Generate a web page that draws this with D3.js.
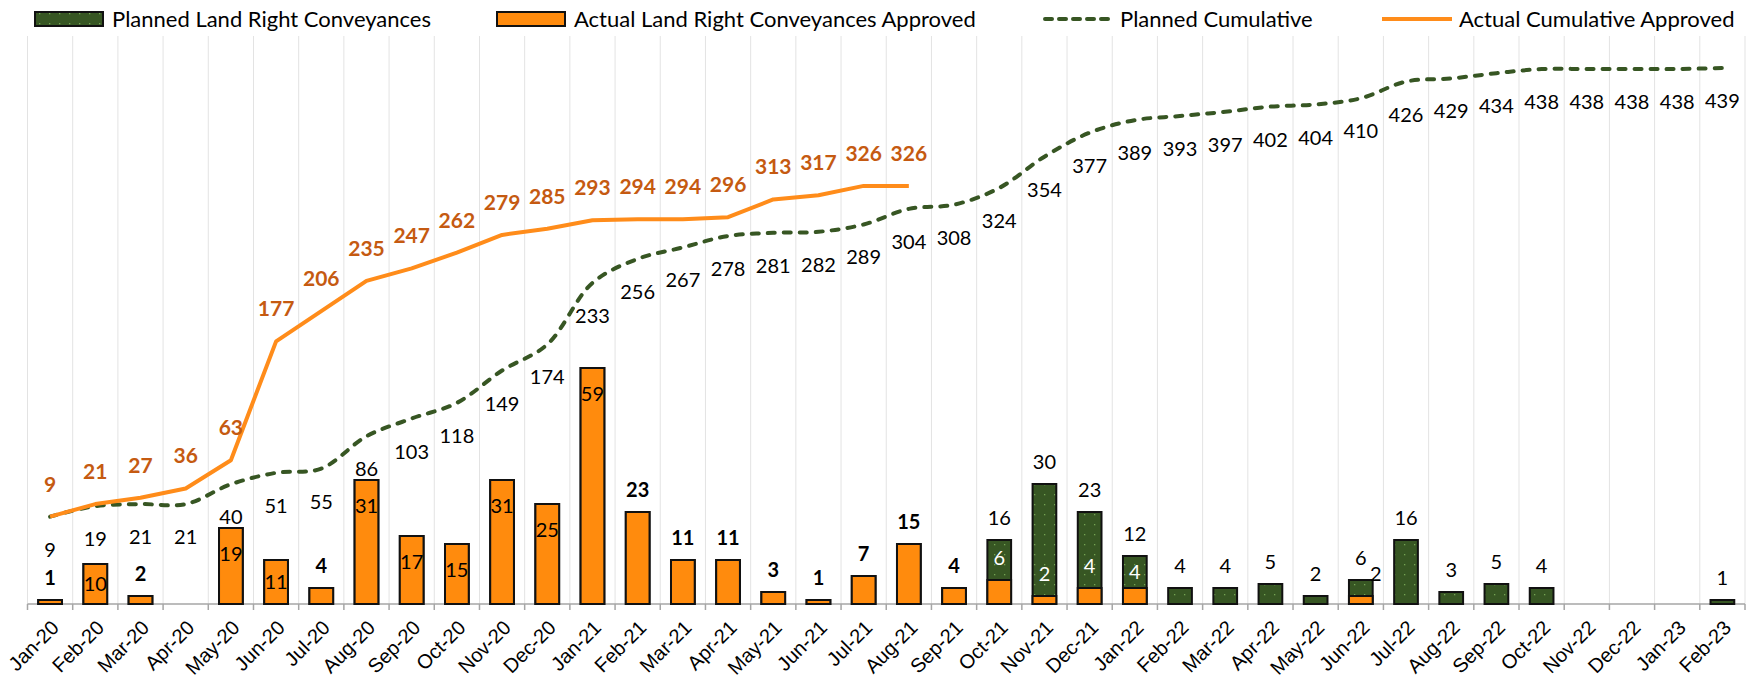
<!DOCTYPE html>
<html>
  <head>
    <meta charset="utf-8">
    <title>Land right conveyances</title>
    <script src="https://d3js.org/d3.v7.min.js"></script>
    <style>
      body { margin: 0; background: #fff; }
      svg { display: block; font-family: Lato, "Open Sans", sans-serif; }
      .grid line { stroke: #e3e3e3; stroke-width: 1; }
      .axis path, .axis line { stroke: #a6a6a6; stroke-width: 1.5; }
      .axis text { font-size: 20px; fill: #000; }
      .legend text { font-size: 22px; fill: #000; }
      .lbl { font-size: 20px; }
    </style>
  </head>
  <body>
    <svg id="chart" width="1758" height="680"></svg>
    <script>
      // data
      const months = ["Jan-20","Feb-20","Mar-20","Apr-20","May-20","Jun-20","Jul-20","Aug-20","Sep-20","Oct-20","Nov-20","Dec-20",
        "Jan-21","Feb-21","Mar-21","Apr-21","May-21","Jun-21","Jul-21","Aug-21","Sep-21","Oct-21","Nov-21","Dec-21",
        "Jan-22","Feb-22","Mar-22","Apr-22","May-22","Jun-22","Jul-22","Aug-22","Sep-22","Oct-22","Nov-22","Dec-22",
        "Jan-23","Feb-23"];
      const plannedMonthly = [1,10,2,0,19,11,4,31,17,15,31,25,59,23,11,11,3,1,7,15,4,16,30,23,12,4,4,5,2,6,16,3,5,4,0,0,0,1];
      const actualMonthly = [1,10,2,0,19,11,4,31,17,15,31,25,59,23,11,11,3,1,7,15,4,6,2,4,4,0,0,0,0,2];
      const plannedCumulative = [9,19,21,21,40,51,55,86,103,118,149,174,233,256,267,278,281,282,289,304,308,324,354,377,389,393,397,402,404,410,426,429,434,438,438,438,438,439];
      const actualCumulative = [9,21,27,36,63,177,206,235,247,262,279,285,293,294,294,296,313,317,326,326];
      const seriesNames = ["Planned Land Right Conveyances", "Actual Land Right Conveyances Approved", "Planned Cumulative", "Actual Cumulative Approved"];

      const green = "#375623", orange = "#ff8b0d", orangeLine = "#ff8c1a", orangeText = "#c55a11";

      const svg = d3.select("#chart");
      const defs = svg.append("defs");
      const pat = defs.append("pattern").attr("id", "dots")
        .attr("patternUnits", "userSpaceOnUse").attr("width", 10).attr("height", 10);
      pat.append("rect").attr("width", 10).attr("height", 10).attr("fill", green);
      pat.append("rect").attr("x", 4).attr("y", 4).attr("width", 1.3).attr("height", 1.3).attr("fill", "#73a352");

      // scales
      const plotTop = 36, base = 604;
      const x = d3.scaleBand().domain(months).range([27.5, 1745]).padding(0);
      const barW = x.bandwidth() * 0.525;
      const cx = m => x(m) + x.bandwidth() / 2;
      const y = d3.scaleLinear().domain([0, 142]).range([base, plotTop]);
      const y2 = d3.scaleLinear().domain([0, 439]).range([526, 68]);

      // vertical gridlines at category boundaries
      svg.append("g").attr("class", "grid")
        .selectAll("line").data(months.concat([null])).join("line")
        .attr("x1", (d, i) => 27.5 + i * x.step()).attr("x2", (d, i) => 27.5 + i * x.step())
        .attr("y1", plotTop).attr("y2", base);

      // x axis
      const xAxis = d3.axisBottom(x).tickSize(0).tickPadding(0);
      const ax = svg.append("g").attr("class", "axis").attr("transform", "translate(0," + base + ")").call(xAxis);
      ax.select(".domain").attr("d", "M27.5,0H1745");
      ax.selectAll(".tick line").remove();
      ax.append("g").selectAll("line").data(months.concat([null])).join("line")
        .attr("x1", (d, i) => 27.5 + i * x.step()).attr("x2", (d, i) => 27.5 + i * x.step())
        .attr("y1", 0).attr("y2", 6);
      ax.selectAll(".tick text")
        .attr("text-anchor", "end")
        .attr("dy", "0.35em")
        .attr("transform", "translate(5,20) rotate(-45)");

      // bars: planned behind, actual in front
      const bars = svg.append("g");
      bars.selectAll(".planned").data(plannedMonthly).join("rect")
        .attr("class", "planned")
        .attr("x", (d, i) => cx(months[i]) - barW / 2).attr("width", barW)
        .attr("y", d => y(d)).attr("height", d => base - y(d))
        .attr("fill", "url(#dots)").attr("stroke", "#111").attr("stroke-width", 2)
        .style("display", d => d > 0 ? null : "none");
      bars.selectAll(".actual").data(actualMonthly).join("rect")
        .attr("class", "actual")
        .attr("x", (d, i) => cx(months[i]) - barW / 2).attr("width", barW)
        .attr("y", d => y(d)).attr("height", d => base - y(d))
        .attr("fill", orange).attr("stroke", "#111").attr("stroke-width", 2)
        .style("display", d => d > 0 ? null : "none");

      // lines
      const linePlanned = d3.line().x((d, i) => cx(months[i])).y(d => y2(d)).curve(d3.curveCatmullRom.alpha(0.5));
      const lineActual = d3.line().x((d, i) => cx(months[i])).y(d => y2(d));
      svg.append("path").attr("d", linePlanned(plannedCumulative))
        .attr("fill", "none").attr("stroke", green).attr("stroke-width", 4)
        .attr("stroke-dasharray", "7,9").attr("stroke-linecap", "round");
      svg.append("path").attr("d", lineActual(actualCumulative))
        .attr("fill", "none").attr("stroke", orangeLine).attr("stroke-width", 4)
        .attr("stroke-linejoin", "round");

      // labels
      const labels = svg.append("g").attr("class", "lbl").attr("text-anchor", "middle");
      labels.selectAll(".pc").data(plannedCumulative).join("text")
        .attr("x", (d, i) => cx(months[i])).attr("y", d => y2(d) + 40)
        .text(d => d);
      labels.selectAll(".ac").data(actualCumulative).join("text")
        .attr("x", (d, i) => cx(months[i])).attr("y", d => y2(d) - 25)
        .attr("fill", orangeText).attr("font-weight", "bold").attr("font-size", 21)
        .text(d => d);

      plannedMonthly.forEach((p, i) => {
        const a = actualMonthly[i] || 0;
        const m = months[i];
        if (p === 0 && a === 0) return;
        if (p > a) {
          labels.append("text").attr("x", cx(m)).attr("y", y(p) - 15).text(p);
          if (a > 0) {
            const roomy = y(p) + 14 < y(a) - 8;
            const ly = roomy ? Math.max(y(a) - 22, y(p) + 16) : y(a) - 22;
            labels.append("text").attr("x", cx(m) + (roomy ? 0 : 15)).attr("y", ly + 7)
              .attr("fill", roomy ? "#fff" : "#000").text(a);
          }
        } else if (i <= 12 && a >= 10) {
          const ly = Math.min(y(a) + 26, (y(a) + base) / 2);
          labels.append("text").attr("x", cx(m)).attr("y", ly + 7).text(a);
        } else {
          labels.append("text").attr("x", cx(m)).attr("y", y(a) - 15)
            .attr("font-weight", "bold").text(a);
        }
      });

      // legend
      const legend = svg.append("g").attr("class", "legend");
      const items = [
        { x: 35, kind: "bar", fill: "url(#dots)" },
        { x: 497, kind: "bar", fill: orange },
        { x: 1043, kind: "dash" },
        { x: 1382, kind: "line" }
      ];
      items.forEach((it, k) => {
        const g = legend.append("g").attr("transform", "translate(" + it.x + ",19)");
        if (it.kind === "bar") {
          g.append("rect").attr("x", 0).attr("y", -7).attr("width", 68).attr("height", 14)
            .attr("fill", it.fill).attr("stroke", "#111").attr("stroke-width", 2);
        } else if (it.kind === "dash") {
          g.append("line").attr("x1", 2).attr("x2", 68).attr("stroke", green).attr("stroke-width", 4)
            .attr("stroke-dasharray", "7,7").attr("stroke-linecap", "round");
        } else {
          g.append("line").attr("x1", 0).attr("x2", 70).attr("stroke", orangeLine).attr("stroke-width", 4);
        }
        g.append("text").attr("x", 77).attr("dy", "0.35em").text(seriesNames[k]);
      });
    </script>
  </body>
</html>
